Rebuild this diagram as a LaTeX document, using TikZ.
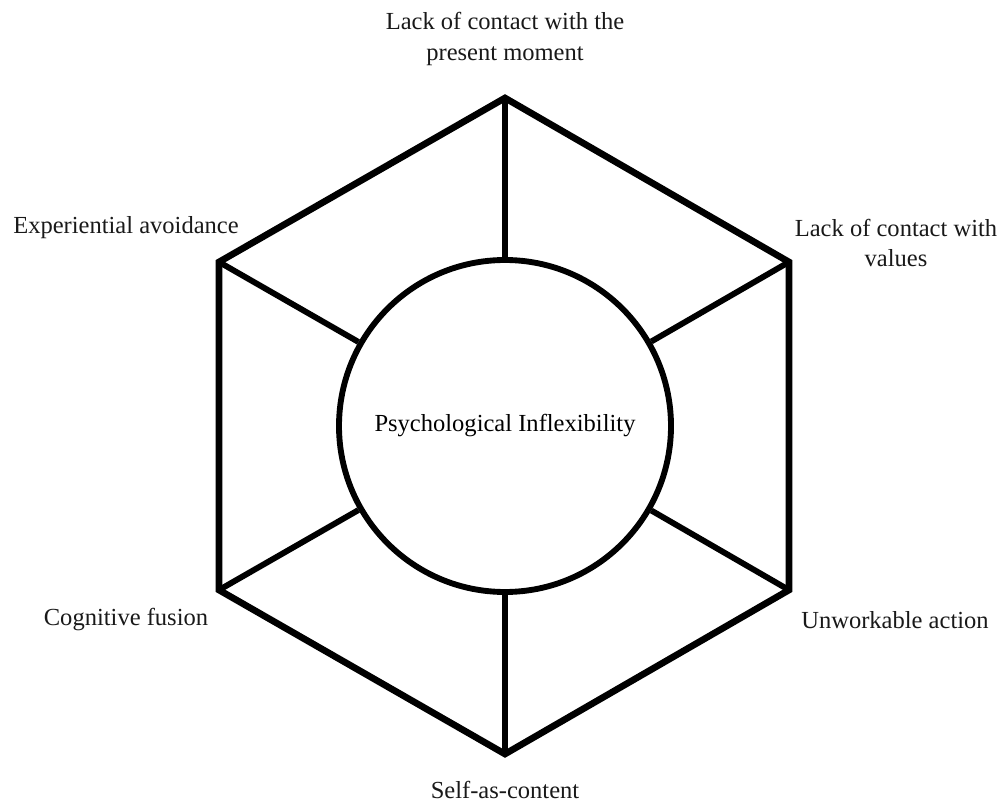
\documentclass[tikz,border=0pt]{standalone}
\usepackage{fontspec}
\setmainfont{Liberation Serif}
\usetikzlibrary{positioning}

\begin{document}
\begin{tikzpicture}[
    x=0.75pt, y=-0.75pt,
    hexline/.style={line width=5pt, draw=black, line join=miter},
    spoke/.style={line width=4.4pt, draw=black},
    core/.style={circle, draw=black, line width=4.4pt, fill=white, minimum size=249pt, inner sep=0pt, font=\fontsize{18.4}{23}\selectfont},
    label/.style={align=center, text=black!90, inner sep=0pt, font=\fontsize{18.4}{23}\selectfont}
]
\useasboundingbox (0,0) rectangle (1002,805);

% hexagon corners
\coordinate (vtop) at (505,98);
\coordinate (vur) at (789,262);
\coordinate (vlr) at (789,590);
\coordinate (vbot) at (505,754);
\coordinate (vll) at (219,590);
\coordinate (vul) at (219,262);

\node[core] (infl) at (505,426) {Psychological Inflexibility};

\draw[hexline] (vtop) -- (vur) -- (vlr) -- (vbot) -- (vll) -- (vul) -- cycle;

\draw[spoke] (vtop) -- (infl);
\draw[spoke] (vur) -- (infl);
\draw[spoke] (vlr) -- (infl);
\draw[spoke] (vbot) -- (infl);
\draw[spoke] (vll) -- (infl);
\draw[spoke] (vul) -- (infl);

\node[label] (present) at (505,39) {Lack of contact with the\\present moment};
\node[label] (avoid) at (126,228) {Experiential avoidance};
\node[label] (values) at (896,243) {Lack of contact with\\values};
\node[label] (fusion) at (126,620) {Cognitive fusion};
\node[label] (action) at (895,620) {Unworkable action};
\node[label] (self) at (505,790) {Self-as-content};

\end{tikzpicture}
\end{document}
